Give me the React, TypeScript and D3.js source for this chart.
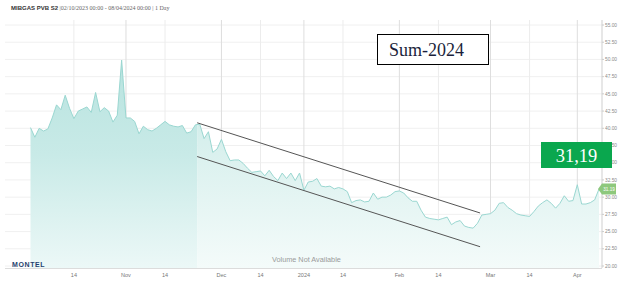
import React from "react";
import * as d3 from "d3";

const startDate = "2023-10-02";
const endDate = "2024-04-08";
const holidays = ["2023-12-25", "2023-12-26", "2024-01-01", "2024-03-29"];

const prices = [
  40.1, 38.7, 40.0, 39.6, 39.9, 41.5, 43.4, 42.7, 44.8, 42.9,
  41.4, 42.5, 42.8, 43.1, 42.3, 45.2, 42.4, 43.0, 42.5, 40.9,
  41.9, 49.9, 41.5, 41.5, 41.0, 39.2, 40.3, 39.8, 39.6, 40.0,
  40.5, 41.0, 40.5, 40.3, 40.2, 40.4, 39.3, 39.5, 40.5, 40.6,
  38.5, 39.5, 36.5, 37.0, 38.4, 36.6, 35.3, 35.4, 35.4, 34.9,
  34.2, 33.6, 33.7, 33.8, 33.1, 33.9, 33.0, 32.4, 33.5, 32.7,
  33.5, 32.4, 33.5, 31.0, 32.2, 32.3, 32.7, 31.6, 31.5, 31.6,
  31.2, 31.4, 31.2, 30.8, 29.2, 29.5, 29.6, 29.3, 29.4, 30.6,
  29.7, 30.0, 30.0, 30.3, 30.8, 30.9, 30.6, 29.9, 29.4, 29.4,
  28.1, 27.1, 26.9, 26.8, 26.7, 26.9, 27.1, 26.0, 26.4, 26.6,
  25.8, 25.6, 25.5, 26.2, 27.4, 27.5, 27.6, 28.1, 29.1, 29.2,
  28.5, 28.1, 27.6, 27.4, 27.3, 27.2, 27.9, 28.7, 29.2, 29.6,
  29.1, 28.4, 29.1, 30.2, 29.4, 29.5, 31.8, 29.0, 29.0, 29.2,
  29.6, 31.19,
];

const tickDates = [
  "2023-10-14", "2023-11-01", "2023-11-14", "2023-12-01", "2023-12-14", "2024-01-01",
  "2024-01-14", "2024-02-01", "2024-02-14", "2024-03-01", "2024-03-14", "2024-04-01",
];
const tickLabels = ["14", "Nov", "14", "Dec", "14", "2024", "14", "Feb", "14", "Mar", "14", "Apr"];
const majorTick = [false, true, false, true, false, true, false, true, false, true, false, true];

const yTicks = [20, 22.5, 25, 27.5, 30, 32.5, 35, 37.5, 40, 42.5, 45, 47.5, 50, 52.5, 55];

// trend channel lines: [trading-day index, price]
const upperTrend = [[38.4, 40.8], [103.6, 27.7]];
const lowerTrend = [[38.4, 35.9], [103.6, 22.8]];
const zoneSplitIndex = 38.4;

const titleName = "MIBGAS PVB S2";
const titleRest = " |02/10/2023 00:00 - 08/04/2024 00:00 | 1 Day";
const legendText = "Sum-2024";

function tradingDays(): Date[] {
  const parse = d3.utcParse("%Y-%m-%d");
  const fmt = d3.utcFormat("%Y-%m-%d");
  const s = parse(startDate)!;
  const e = parse(endDate)!;
  return d3.utcDay.range(s, d3.utcDay.offset(e, 1)).filter((d) => {
    const wd = d.getUTCDay();
    return wd !== 0 && wd !== 6 && !holidays.includes(fmt(d));
  });
}

export default function App() {
  const W = 630, H = 284;
  const days = tradingDays();
  const parse = d3.utcParse("%Y-%m-%d");
  const n = prices.length;
  const x = d3.scaleLinear().domain([0, n - 1]).range([30.5, 599]);
  const y = d3.scaleLinear().domain([20, 55]).range([266, 25]);
  const plotTop = 20, plotBottom = 268, plotLeft = 5, axisX = 602;

  const tickIdx = tickDates.map((t) => {
    const d = parse(t)!;
    const i = days.findIndex((dd) => dd >= d);
    return i;
  });

  const area = d3.area<number>().x((_, i) => x(i)).y0(plotBottom).y1((v) => y(v));
  const line = d3.line<number>().x((_, i) => x(i)).y((v) => y(v));
  const trend = d3.line<number[]>().x((p) => x(p[0])).y((p) => y(p[1]));
  const splitX = x(zoneSplitIndex);
  const last = prices[n - 1];
  const fmtComma = (v: number) => d3.format(".2f")(v).replace(".", ",");

  return (
    <svg width={W} height={H} style={{ position: "absolute", left: 0, top: 0, background: "#fff" }}
      fontFamily="'Liberation Sans', Arial, sans-serif">
      <defs>
        <linearGradient id="gLeft" gradientUnits="userSpaceOnUse" x1="0" y1="60" x2="0" y2="268">
          <stop offset="0" stopColor="#b8e3df" />
          <stop offset="0.45" stopColor="#c8eae7" />
          <stop offset="1" stopColor="#ecf8f7" />
        </linearGradient>
        <linearGradient id="gRight" gradientUnits="userSpaceOnUse" x1="0" y1="120" x2="0" y2="268">
          <stop offset="0" stopColor="#d3eeeb" />
          <stop offset="1" stopColor="#f4fbfa" />
        </linearGradient>
        <clipPath id="cLeft"><rect x={0} y={0} width={splitX} height={H} /></clipPath>
        <clipPath id="cRight"><rect x={splitX} y={0} width={W - splitX} height={H} /></clipPath>
      </defs>

      {/* horizontal grid */}
      {yTicks.map((t) => (
        <line key={"h" + t} x1={plotLeft} x2={axisX} y1={y(t)} y2={y(t)} stroke="#f0f0f0" strokeWidth={1} />
      ))}
      {/* vertical grid */}
      {tickIdx.map((ti, k) => (
        <line key={"v" + k} x1={x(ti)} x2={x(ti)} y1={plotTop} y2={plotBottom}
          stroke={majorTick[k] ? "#dedede" : "#ececec"} strokeWidth={1} />
      ))}

      {/* area */}
      <path d={area(prices) || ""} fill="url(#gLeft)" clipPath="url(#cLeft)" />
      <path d={area(prices) || ""} fill="url(#gRight)" clipPath="url(#cRight)" />
      <path d={line(prices) || ""} fill="none" stroke="#9ad7d1" strokeWidth={1} />

      {/* trend channel */}
      <path d={trend(upperTrend) || ""} stroke="#555" strokeWidth={1} fill="none" />
      <path d={trend(lowerTrend) || ""} stroke="#555" strokeWidth={1} fill="none" />

      {/* axes */}
      <line x1={axisX} x2={axisX} y1={plotTop} y2={plotBottom} stroke="#cfcfcf" />
      <line x1={plotLeft} x2={axisX} y1={plotBottom + 0.5} y2={plotBottom + 0.5} stroke="#dcdcdc" />
      {yTicks.map((t) => (
        <g key={"yt" + t}>
          <line x1={axisX} x2={axisX + 2} y1={y(t)} y2={y(t)} stroke="#ccc" />
          <text x={axisX + 3} y={y(t) + 1.7} fontSize={4.8} fill="#8a8a8a">{d3.format(".2f")(t)}</text>
        </g>
      ))}
      {tickIdx.map((ti, k) => (
        <text key={"xt" + k} x={x(ti)} y={276.5} fontSize={5.5} fill="#777" textAnchor="middle">{tickLabels[k]}</text>
      ))}

      {/* last price tag on axis */}
      <path d={`M${axisX - 4},${y(last)} L${axisX},${y(last) - 5.5} L${axisX + 14},${y(last) - 5.5} L${axisX + 14},${y(last) + 5.5} L${axisX},${y(last) + 5.5} Z`}
        fill="#8dc87c" />
      <text x={axisX + 7} y={y(last) + 1.6} fontSize={4.6} fill="#fff" textAnchor="middle">{d3.format(".2f")(last)}</text>

      {/* title */}
      <text x={11} y={9.5} fontSize={6} fill="#333">
        <tspan fontWeight="bold" fontFamily="'Liberation Sans', Arial, sans-serif">{titleName}</tspan>
        <tspan fontFamily="'Liberation Serif', serif" fill="#666">{titleRest}</tspan>
      </text>

      {/* legend box */}
      <rect x={377.5} y={34.5} width={111} height={30} fill="#fff" stroke="#000" strokeWidth={1} />
      <text x={389} y={56} fontSize={18} fontFamily="'Liberation Serif', 'DejaVu Serif', serif" fill="#1b1f3b">{legendText}</text>

      {/* last price big label */}
      <rect x={541} y={142} width={71} height={26} fill="#0aa74e" />
      <text x={576.5} y={161.5} fontSize={18.5} fontFamily="'Liberation Serif', 'DejaVu Serif', serif" fill="#fff" textAnchor="middle">{fmtComma(last)}</text>

      {/* watermark */}
      <text x={272} y={261.5} fontSize={7.3} fill="#9a9a9a">Volume Not Available</text>
      <text x={12} y={266.5} fontSize={7} fontWeight={900} fill="#1f3f6e" letterSpacing={0.6}>MONTEL</text>
    </svg>
  );
}
